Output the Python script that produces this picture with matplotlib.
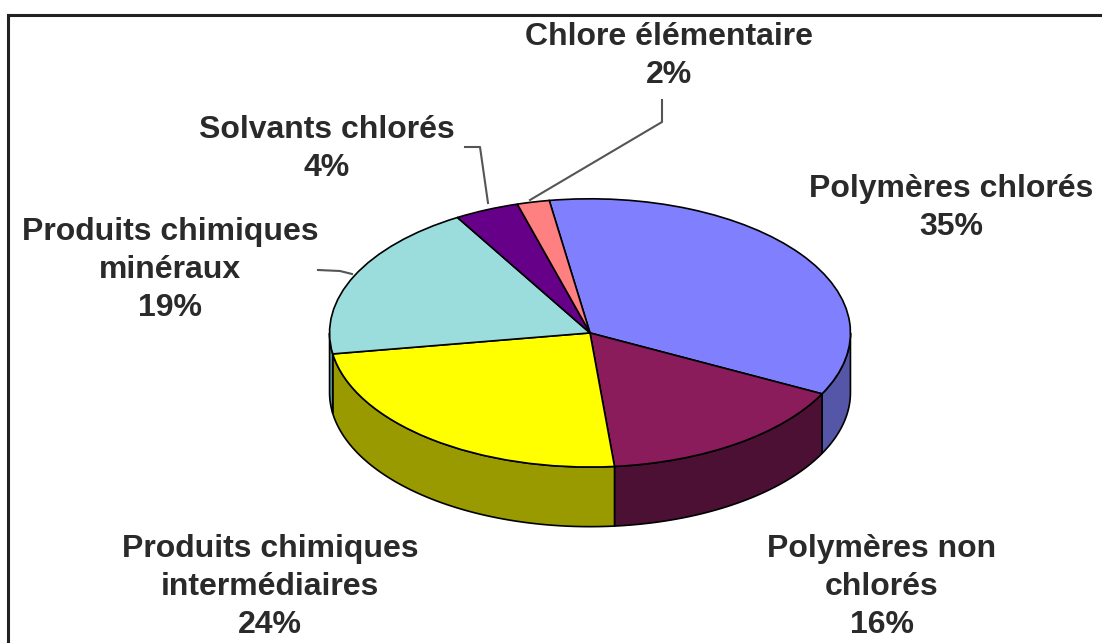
import numpy as np
import matplotlib
matplotlib.use("Agg")
import matplotlib.pyplot as plt

# données
categories = ["Polymères chlorés", "Polymères non chlorés",
              "Produits chimiques intermédiaires", "Produits chimiques minéraux",
              "Solvants chlorés", "Chlore élémentaire"]
parts = [35, 16, 24, 19, 4, 2]
etiquettes = ["Polymères chlorés\n35%", "Polymères non\nchlorés\n16%",
              "Produits chimiques\nintermédiaires\n24%",
              "Produits chimiques\nminéraux\n19%",
              "Solvants chlorés\n4%", "Chlore élémentaire\n2%"]

couleurs = ["#8080FF", "#8A1C5C", "#FFFF00", "#9BDCDC", "#660088", "#FF8080"]
cotes = ["#5656A8", "#4C1035", "#999900", "#5E9A9A", "#3D0050", "#A05050"]

W, H = 1102, 643
fig = plt.figure(figsize=(W / 100, H / 100), dpi=100)

# fond en coordonnées pixels (cadre, textes, traits de rappel)
fond = fig.add_axes([0, 0, 1, 1])
fond.set_xlim(0, W)
fond.set_ylim(H, 0)
fond.axis("off")

# ellipse du dessus : centre (590, 333), rayons 262 x 135, épaisseur 60
cx, cy, rx, ry, ep = 590, 333, 262, 135, 60
d = ep / ry
ax = fig.add_axes([(cx - rx) / W, 1 - (cy + ry + ep) / H, 2 * rx / W, (2 * ry + ep) / H])

wedges, _ = ax.pie(parts, colors=couleurs, startangle=99, counterclock=False,
                   wedgeprops=dict(edgecolor="black", linewidth=1.2))
for w in wedges:
    w.set_zorder(3)

# côtés visibles (moitié avant)
for w, c in zip(wedges, cotes):
    t1, t2 = w.theta1, w.theta2
    # ramener dans [-180, 180]
    while t2 > 180:
        t1 -= 360
        t2 -= 360
    while t1 < -180 and t2 < -180:
        t1 += 360
        t2 += 360
    a, b = max(t1, -180), min(t2, 0)
    if b <= a:
        continue
    phi = np.radians(np.linspace(a, b, 80))
    xs = np.concatenate([np.cos(phi), np.cos(phi[::-1])])
    ys = np.concatenate([np.sin(phi), np.sin(phi[::-1]) - d])
    ax.fill(xs, ys, facecolor=c, edgecolor="black", linewidth=1.2, zorder=2)

ax.set_aspect("auto")
ax.set_xlim(-1.006, 1.006)
ax.set_ylim(-1 - d - 0.01, 1.006)
ax.axis("off")

# cadre
fond.plot([8, W], [15, 15], color="#222222", lw=2.2)
fond.plot([8, 8], [15, H], color="#222222", lw=2.2)

# traits de rappel
gris = "#555555"
fond.plot([662, 662, 530], [100, 122, 200], color=gris, lw=1.5)
fond.plot([465, 480, 488], [147, 147, 203], color=gris, lw=1.5)
fond.plot([318, 340, 352], [270, 271, 274], color=gris, lw=1.5)

# étiquettes
positions = [(951, 208), (882, 587), (270, 587), (170, 270), (327, 149), (669, 56)]
for txt, (x, y) in zip(etiquettes, positions):
    fond.text(x, y, txt, ha="center", va="center", fontsize=23,
              fontweight="bold", family="Liberation Sans", color="#2A2A2A",
              linespacing=1.35)

fig.savefig("out.png", dpi=100)
